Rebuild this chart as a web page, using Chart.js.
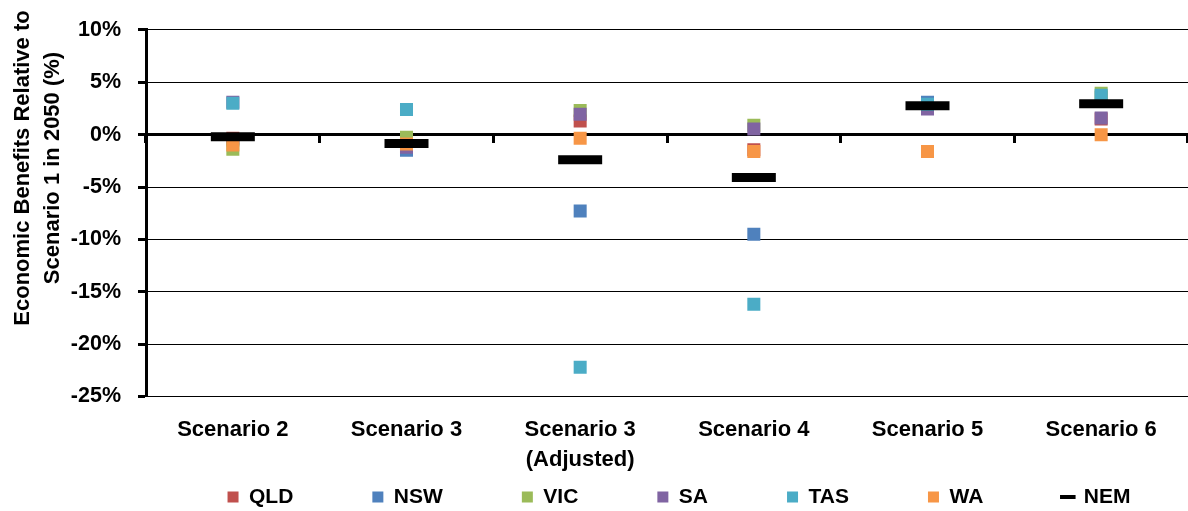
<!DOCTYPE html>
<html>
<head>
<meta charset="utf-8">
<script src="https://cdn.jsdelivr.net/npm/chart.js@4.4.1/dist/chart.umd.min.js"></script>
<style>
  html, body { margin: 0; padding: 0; background: #fff; }
  canvas { display: block; }
</style>
</head>
<body>
<canvas id="chart" width="1188" height="511"></canvas>
<script>
// Categories along the x axis
const categories = ['Scenario 2', 'Scenario 3', ['Scenario 3', '(Adjusted)'], 'Scenario 4', 'Scenario 5', 'Scenario 6'];

// Change in economic benefits vs Scenario 1 in 2050 (%), by region
const qld = [-0.35, -0.6, 1.3, -1.45, 2.7, 1.5];
const nsw = [-0.5, -1.5, -7.3, -9.5, 3.1, 3.6];
const vic = [-1.4, -0.25, 2.3, 0.9, 2.8, 3.95];
const sa  = [3.1, -1.2, 1.95, 0.55, 2.45, 1.6];
const tas = [3.0, 2.4, -22.2, -16.2, 2.9, 3.75];
const wa  = [-1.0, -0.9, -0.35, -1.6, -1.6, 0.0];
const nem = [-0.2, -0.85, -2.4, -4.1, 2.75, 2.95];

// Value axis range and tick step (%)
const yMin = -25;
const yMax = 10;
const yStep = 5;

const FONT = '"Liberation Sans", Arial, sans-serif';

const regions = [
  { label: 'QLD', data: qld, color: '#C0504D' },
  { label: 'NSW', data: nsw, color: '#4F81BD' },
  { label: 'VIC', data: vic, color: '#9BBB59' },
  { label: 'SA',  data: sa,  color: '#8064A2' },
  { label: 'TAS', data: tas, color: '#4BACC6' },
  { label: 'WA',  data: wa,  color: '#F79646' }
];

// Later regions sit on top of earlier ones; the NEM bar is drawn last
const datasets = regions.map((r, i) => ({
  label: r.label,
  data: r.data,
  xAxisID: 'x',
  yAxisID: 'y',
  showLine: false,
  order: regions.length + 1 - i,
  pointStyle: 'rect',
  pointRadius: 9.2,
  pointHoverRadius: 9.2,
  pointBackgroundColor: r.color,
  pointBorderColor: r.color,
  pointBorderWidth: 0,
  backgroundColor: r.color,
  borderColor: r.color
}));
datasets.push({
  label: 'NEM',
  data: nem,
  xAxisID: 'x',
  yAxisID: 'y',
  showLine: false,
  order: 1,
  pointStyle: 'line',
  pointRadius: 22,
  pointHoverRadius: 22,
  pointBorderColor: '#000',
  pointBackgroundColor: '#000',
  pointBorderWidth: 9,
  pointHoverBorderWidth: 9,
  borderColor: '#000',
  backgroundColor: '#000'
});

// Two-line rotated title for the value axis
const yAxisTitle = {
  id: 'yAxisTitle',
  afterDraw(chart) {
    const ctx = chart.ctx;
    ctx.save();
    ctx.font = 'bold 22px ' + FONT;
    ctx.fillStyle = '#000';
    ctx.textAlign = 'center';
    ctx.textBaseline = 'middle';
    ctx.translate(23, 168);
    ctx.rotate(-Math.PI / 2);
    ctx.fillText('Economic Benefits Relative to', 0, 0);
    ctx.fillText('Scenario 1 in 2050 (%)', 0, 29.5);
    ctx.restore();
  }
};

// The category axes sit inside the plot, so they need no side margins
const noSidePadding = scale => { scale.paddingLeft = 0; scale.paddingRight = 0; };

// The legend row is wider than the plot and centred a little right of it:
// the layout is widened to the right and an empty right-hand axis takes the
// extra width back from the plot area.
const rightOverhang = 170;
const legendPadding = 79;
const legendFontSize = 21;
const legendHeight = 114.5;

new Chart(document.getElementById('chart'), {
  type: 'line',
  data: { labels: categories, datasets },
  plugins: [yAxisTitle],
  options: {
    responsive: false,
    animation: false,
    events: [],
    layout: { autoPadding: false, padding: { top: 29.5, right: -rightOverhang, bottom: 0, left: 0 } },
    scales: {
      // category labels, hung below the zero line
      x: {
        type: 'category',
        position: { y: 0 },
        offset: true,
        afterFit: noSidePadding,
        grid: {
          display: true,
          offset: true,
          drawOnChartArea: false,
          drawTicks: true,
          tickLength: 280,
          tickColor: 'rgba(0,0,0,0)'
        },
        border: { display: false },
        ticks: {
          padding: 0,
          color: '#000',
          maxRotation: 0,
          autoSkip: false,
          font: { family: FONT, size: 22, weight: 'bold', lineHeight: 1.36 }
        }
      },
      // zero line with short category separators
      xZero: {
        type: 'category',
        position: { y: 0 },
        offset: true,
        afterFit: noSidePadding,
        grid: {
          display: true,
          offset: true,
          drawOnChartArea: false,
          drawTicks: true,
          tickLength: 7,
          color: '#000',
          lineWidth: 3
        },
        border: { display: true, color: '#000', width: 3 },
        ticks: { display: false, padding: 0 }
      },
      y: {
        min: yMin,
        max: yMax,
        afterFit(scale) { scale.width = 146; },
        grid: {
          color: '#000',
          lineWidth: 1,
          drawTicks: true,
          tickLength: 8,
          tickWidth: 3,
          tickColor: '#000'
        },
        border: { display: true, color: '#000', width: 3 },
        ticks: {
          stepSize: yStep,
          padding: 17,
          color: '#000',
          font: { family: FONT, size: 21.5, weight: 'bold' },
          callback: v => v + '%'
        }
      },
      // empty right-hand margin
      yMargin: {
        type: 'linear',
        position: 'right',
        display: true,
        afterFit(scale) { scale.width = rightOverhang; },
        grid: { display: false, drawTicks: false },
        border: { display: false },
        ticks: { display: false }
      }
    },
    plugins: {
      tooltip: { enabled: false },
      legend: {
        position: 'bottom',
        fullSize: true,
        maxHeight: legendHeight,
        title: {
          display: true, text: '', padding: 0,
          font: { size: 497 - (511 - legendHeight) - legendPadding - legendFontSize / 2, lineHeight: 1 }
        },
        labels: {
          usePointStyle: true,
          boxHeight: 11,
          boxWidth: 11,
          padding: legendPadding,
          color: '#000',
          font: { family: FONT, size: legendFontSize, weight: 'bold' },
          sort: (a, b) => a.datasetIndex - b.datasetIndex,
          generateLabels(chart) {
            const items = Chart.defaults.plugins.legend.labels.generateLabels(chart);
            items.forEach(it => { it.lineWidth = it.pointStyle === 'line' ? 4 : 0; });
            return items;
          }
        }
      }
    }
  }
});
</script>
</body>
</html>
